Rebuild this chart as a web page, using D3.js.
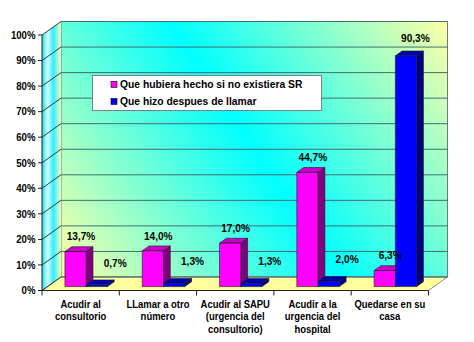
<!DOCTYPE html>
<html>
<head>
<meta charset="utf-8">
<script src="https://cdn.jsdelivr.net/npm/d3@7/dist/d3.min.js"></script>
<style>
  html, body { margin: 0; padding: 0; background: #fff; }
  svg text { font-family: "Liberation Sans", Arial, sans-serif; font-weight: bold; fill: #000; }
</style>
</head>
<body>
<svg id="chart" width="474" height="342"></svg>
<script>
// Categories (line breaks mark the wrapped axis labels)
const categories = [
  "Acudir al\nconsultorio",
  "LLamar a otro\nnúmero",
  "Acudir al SAPU\n(urgencia del\nconsultorio)",
  "Acudir a la\nurgencia del\nhospital",
  "Quedarse en su\ncasa"
];
const seriesNames = ["Que hubiera hecho si no existiera SR", "Que hizo despues de llamar"];
const beforeValues = [13.7, 14.0, 17.0, 44.7, 6.3];
const afterValues = [0.7, 1.3, 1.3, 2.0, 90.3];
const yTicks = [0, 10, 20, 30, 40, 50, 60, 70, 80, 90, 100];

(function () {
const svg = d3.select("#chart");

// Front plane of the 3-D box and its depth offset
const pLeft = 42, pRight = 428.5, pBottom = 290.5, pTop = 35;
const DX = 19, DY = -13.5;
const d0 = 0.29, d1 = 0.65;

const x0 = d3.scaleBand().domain(d3.range(categories.length)).range([pLeft, pRight]);
const x1 = d3.scaleBand().domain([0, 1]).range([0, x0.bandwidth()]).paddingOuter(0.82).paddingInner(0);
const y = d3.scaleLinear().domain([0, 100]).range([pBottom, pTop]);

const P = (x, v, d) => [x + d * DX, y(v) + d * DY];
const pts = a => a.map(p => p.join(",")).join(" ");

const locale = d3.formatLocale({ decimal: ",", thousands: ".", grouping: [3], currency: ["", ""] });
const fmt = v => locale.format(".1f")(v) + "%";

// Text drawn with a slightly condensed horizontal scale
function label(parent, x, yy, str, size, sx, anchor) {
  return parent.append("text")
    .attr("transform", `translate(${x},${yy}) scale(${sx},1)`)
    .attr("dy", "0.35em").attr("text-anchor", anchor).attr("font-size", size).text(str);
}

const defs = svg.append("defs");
// Back wall: yellow corners, cyan diagonal band
const wallGrad = defs.append("linearGradient").attr("id", "wallGrad")
  .attr("gradientUnits", "userSpaceOnUse")
  .attr("x1", pLeft + DX).attr("y1", pBottom + DY)
  .attr("x2", pRight + DX).attr("y2", pTop + DY);
wallGrad.append("stop").attr("offset", 0).attr("stop-color", "#FFFFA6");
wallGrad.append("stop").attr("offset", 0.5).attr("stop-color", "#00FFFF");
wallGrad.append("stop").attr("offset", 1).attr("stop-color", "#FFFFA6");

const sideGrad = defs.append("linearGradient").attr("id", "sideGrad")
  .attr("gradientUnits", "userSpaceOnUse")
  .attr("x1", pLeft).attr("y1", 0).attr("x2", pLeft + DX).attr("y2", 0);
sideGrad.append("stop").attr("offset", 0).attr("stop-color", "#10E0F0");
sideGrad.append("stop").attr("offset", 0.3).attr("stop-color", "#D8FFFF");
sideGrad.append("stop").attr("offset", 0.6).attr("stop-color", "#30EEFF");
sideGrad.append("stop").attr("offset", 1).attr("stop-color", "#F4FFC0");

const gridColor = "#3d6f73";

// Back wall
svg.append("polygon")
  .attr("points", pts([[pLeft + DX, pTop + DY], [pRight + DX, pTop + DY], [pRight + DX, pBottom + DY], [pLeft + DX, pBottom + DY]]))
  .attr("fill", "url(#wallGrad)").attr("stroke", "#6b7b7b").attr("stroke-width", 1);

// Side wall
svg.append("polygon")
  .attr("points", pts([[pLeft, pTop], [pLeft + DX, pTop + DY], [pLeft + DX, pBottom + DY], [pLeft, pBottom]]))
  .attr("fill", "url(#sideGrad)").attr("stroke", "none");

// Floor
svg.append("polygon")
  .attr("points", pts([[pLeft, pBottom], [pRight, pBottom], [pRight + DX, pBottom + DY], [pLeft + DX, pBottom + DY]]))
  .attr("fill", "#FFFF9E").attr("stroke", "#707070").attr("stroke-width", 0.8);

// Gridlines on side and back walls
yTicks.forEach(t => {
  const yf = y(t);
  svg.append("line").attr("x1", pLeft).attr("y1", yf).attr("x2", pLeft + DX).attr("y2", yf + DY)
    .attr("stroke", "#222").attr("stroke-width", 0.9);
  svg.append("line").attr("x1", pLeft + DX).attr("y1", yf + DY).attr("x2", pRight + DX).attr("y2", yf + DY)
    .attr("stroke", gridColor).attr("stroke-width", 1);
});

// Axes
svg.append("line").attr("x1", pLeft).attr("y1", pTop).attr("x2", pLeft).attr("y2", pBottom)
  .attr("stroke", "#222").attr("stroke-width", 1);
svg.append("line").attr("x1", pLeft).attr("y1", pBottom).attr("x2", pRight).attr("y2", pBottom)
  .attr("stroke", "#222").attr("stroke-width", 1);

yTicks.forEach(t => {
  svg.append("line").attr("x1", pLeft - 4).attr("y1", y(t)).attr("x2", pLeft).attr("y2", y(t))
    .attr("stroke", "#222");
  label(svg, 35.5, y(t), t + "%", 10.7, 0.9, "end");
});

const bounds = categories.map((c, i) => x0(i)).concat([pRight]);
bounds.forEach(b => {
  svg.append("line").attr("x1", b).attr("y1", pBottom).attr("x2", b).attr("y2", pBottom + 5)
    .attr("stroke", "#222");
});

// Category labels
categories.forEach((c, i) => {
  const cx = x0(i) + x0.bandwidth() / 2;
  const t = svg.append("text").attr("text-anchor", "middle").attr("font-size", 11)
    .attr("transform", `translate(${cx},308) scale(0.86,1)`);
  c.split("\n").forEach((line, k) => {
    t.append("tspan").attr("x", 0).attr("dy", k === 0 ? 0 : 12.3).text(line);
  });
});

// Bars
const styles = [
  { front: "#FF00FF", top: "#CC00CC", side: "#800080" },
  { front: "#0000FF", top: "#0000B0", side: "#000080" }
];
const allSeries = [beforeValues, afterValues];

categories.forEach((c, i) => {
  allSeries.forEach((vals, s) => {
    const v = vals[i];
    const xa = x0(i) + x1(s), xb = xa + x1.bandwidth();
    const st = styles[s];
    const g = svg.append("g").attr("stroke", "#1a1a1a").attr("stroke-width", 0.6).attr("stroke-linejoin", "round");
    g.append("polygon").attr("fill", st.side)
      .attr("points", pts([P(xb, 0, d0), P(xb, v, d0), P(xb, v, d1), P(xb, 0, d1)]));
    g.append("polygon").attr("fill", st.top)
      .attr("points", pts([P(xa, v, d0), P(xb, v, d0), P(xb, v, d1), P(xa, v, d1)]));
    g.append("polygon").attr("fill", st.front)
      .attr("points", pts([P(xa, 0, d0), P(xb, 0, d0), P(xb, v, d0), P(xa, v, d0)]));
  });
});

// Value labels
categories.forEach((c, i) => {
  allSeries.forEach((vals, s) => {
    const v = vals[i];
    const mid = (d0 + d1) / 2;
    let lx = x0(i) + x1(s) + x1.bandwidth() / 2 + mid * DX + 2;
    let ly = y(v) + d0 * DY - 15;
    if (s === 1) {
      if (v < 5) { lx += 13; ly = y(v) + d0 * DY - 22; }
      else { lx += 4; ly -= 3; }
    }
    label(svg, lx, ly, fmt(v), 11, 0.92, "middle");
  });
});

// Legend
const lg = svg.append("g");
lg.append("rect").attr("x", 92.5).attr("y", 75.5).attr("width", 229).attr("height", 35)
  .attr("fill", "#fff").attr("stroke", "#808080");
seriesNames.forEach((n, k) => {
  const cy = 84.5 + k * 17;
  lg.append("rect").attr("x", 111).attr("y", cy - 3).attr("width", 6).attr("height", 6)
    .attr("fill", styles[k].front).attr("stroke", "#000").attr("stroke-width", 0.6);
  label(lg, 120, cy, n, 11, 0.94, "start");
});
})();
</script>
</body>
</html>
